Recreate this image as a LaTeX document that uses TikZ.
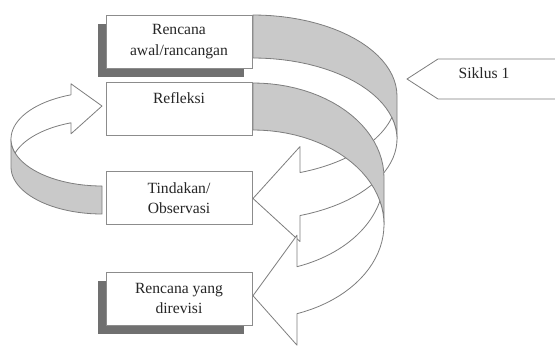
\documentclass[tikz,border=0pt]{standalone}
\usepackage{fontspec}
\setmainfont{Liberation Serif}
\usetikzlibrary{shadows}
\definecolor{bandgray}{RGB}{201,201,201}
\definecolor{linegray}{RGB}{125,125,125}
\definecolor{boxline}{RGB}{140,140,140}
\definecolor{shadowgray}{RGB}{112,112,112}
\newcommand{\cvarrow}[5]{%
 \pgfmathsetmacro\arW{#1}%
 \pgfmathsetmacro\arR{#2}%
 \pgfmathsetmacro\arT{#3}%
 \pgfmathsetmacro\arA{#4}%
 \pgfmathsetmacro\arB{#5}%
 \pgfmathsetmacro\arPhi{acos(\arA/\arW)}%
 \pgfmathsetmacro\arPsi{asin(\arT/(2*\arR))}%
 \pgfmathsetmacro\arMpsi{-\arPsi}%
 \pgfmathsetmacro\arYf{\arR+\arR*sin(\arPhi)}%
 \pgfmathsetmacro\arYs{\arYf+\arT}%
 \pgfmathsetmacro\arDh{(\arB-\arT)/2}%
 \pgfmathsetmacro\arYu{\arYf-\arDh}%
 \pgfmathsetmacro\arYl{\arYs+\arDh}%
 \pgfmathsetmacro\arYt{2*\arR+\arT/2}%
 \path[backband] plot[domain=-90:0] ({\arW*cos(\x)},{\arR+\arR*sin(\x)})
   -- plot[domain=0:-90] ({\arW*cos(\x)},{\arR+\arT+\arR*sin(\x)}) -- cycle;
 \path[frontband] (0,\arYt) -- (\arA,\arYu) -- (\arA,\arYf)
   -- plot[domain=\arPhi:\arPsi] ({\arW*cos(\x)},{\arR+\arR*sin(\x)})
   -- plot[domain=\arMpsi:\arPhi] ({\arW*cos(\x)},{\arR+\arT+\arR*sin(\x)})
   -- (\arA,\arYl) -- cycle;
}
\tikzset{
  backband/.style={fill=bandgray, draw=linegray, line width=0.8pt, line join=round},
  frontband/.style={fill=white, draw=linegray, line width=0.8pt, line join=round},
  stepbox/.style={rectangle, draw=boxline, fill=white, line width=0.7pt,
    minimum width=146pt, minimum height=53pt, inner sep=0pt, align=center,
    font=\fontsize{15.6}{20.5}\selectfont, text=black!85},
  shadowbox/.style={stepbox, drop shadow={shadow xshift=-8.5pt, shadow yshift=-9.5pt, opacity=1, fill=shadowgray}},
  cyclelabel/.style={fill=white, draw=linegray, line width=0.8pt, line join=miter}
}
\begin{document}
\begin{tikzpicture}[x=1pt,y=-1pt]
\useasboundingbox (0,0) rectangle (555,347);
\clip (0,0) rectangle (555,347);
% left arrow: Tindakan -> Refleksi
\begin{scope}[shift={(102,214)}, xscale=-1, yscale=-1]
  \cvarrow{91}{47}{28}{31}{50}
\end{scope}
% right arrow A: Rencana awal -> Tindakan
\begin{scope}[shift={(253,15)}]
  \cvarrow{144}{81}{43}{47}{95}
\end{scope}
% right arrow B: Refleksi -> Rencana yang direvisi
\begin{scope}[shift={(253,83)}]
  \cvarrow{131}{94.6}{47}{44}{110}
\end{scope}
% boxes
\node[shadowbox] (rencana) at (179,41.5) {Rencana\\awal/rancangan};
\node[stepbox] (refleksi) at (179,108.5) {Refleksi\\~};
\node[stepbox] (tindakan) at (179,198) {Tindakan/\\Observasi};
\node[shadowbox] (revisi) at (179,298.5) {Rencana yang\\direvisi};
% cycle label
\coordinate (sktip) at (407,79);
\draw[cyclelabel] (sktip) -- (438,59) -- (562,59) -- (562,99) -- (438,99) -- cycle;
\node[font=\fontsize{15.6}{18}\selectfont, text=black!85] (siklus) at (484,73) {Siklus 1};
\end{tikzpicture}
\end{document}
